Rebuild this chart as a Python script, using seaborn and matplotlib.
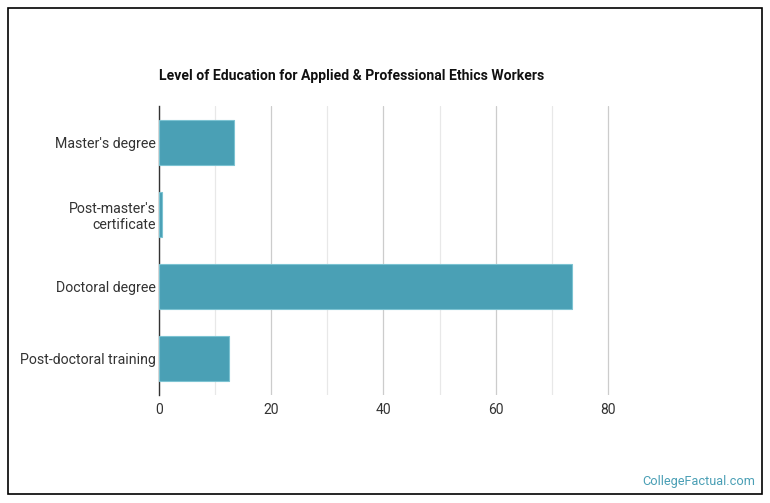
import matplotlib
matplotlib.use("Agg")
import matplotlib.pyplot as plt
import seaborn as sns
import pandas as pd
from matplotlib.patches import Rectangle

# data
levels = ["Master's degree", "Post-master's\ncertificate", "Doctoral degree", "Post-doctoral training"]
shares = [13.3, 0.5, 73.7, 12.5]

df = pd.DataFrame({"level": levels, "share": shares})

sns.set_style("white")
plt.rcParams["font.family"] = ["Roboto", "DejaVu Sans"]

fig = plt.figure(figsize=(7.7, 5.03), dpi=100)
ax = fig.add_axes([159 / 770, 108 / 503, (720 - 159) / 770, (395 - 106) / 503])

sns.barplot(data=df, x="share", y="level", orient="h", color="#4aa0b5",
            width=0.62, edgecolor="#7cc3d2", linewidth=0.8, saturation=1, ax=ax, zorder=3)

ax.set_xlim(0, 100)
ax.set_ylim(3.5, -0.5)
ax.set_xticks([0, 20, 40, 60, 80])
ax.set_xticks([10, 30, 50, 70], minor=True)
ax.grid(axis="x", which="major", color="#cccccc", linewidth=0.9, zorder=0)
ax.grid(axis="x", which="minor", color="#e8e8e8", linewidth=0.9, zorder=0)
ax.set_axisbelow(True)
ax.set_xlabel("")
ax.set_ylabel("")
for s in ["top", "right", "bottom"]:
    ax.spines[s].set_visible(False)
ax.spines["left"].set_color("#333333")
ax.spines["left"].set_linewidth(1.0)
ax.tick_params(axis="both", which="both", length=0, colors="#333333")
ax.tick_params(axis="y", pad=2, labelsize=10.2)
ax.tick_params(axis="x", pad=6, labelsize=10)
for lab in ax.get_yticklabels():
    lab.set_horizontalalignment("right")
    lab.set_multialignment("right")

fig.text(159 / 770, 1 - 76 / 503, "Level of Education for Applied & Professional Ethics Workers",
         fontsize=10.1, fontweight="bold", color="#111111", va="center", ha="left")
fig.text(755 / 770, 1 - 481 / 503, "CollegeFactual.com", fontsize=9.2, color="#4a9fb5",
         ha="right", va="center")

fig.patches.append(Rectangle((8 / 770, 1 - 494 / 503), (762 - 8) / 770, (494 - 8) / 503,
                             transform=fig.transFigure, fill=False, edgecolor="black", linewidth=1.2))

fig.savefig("out.png", dpi=100, facecolor="white")
